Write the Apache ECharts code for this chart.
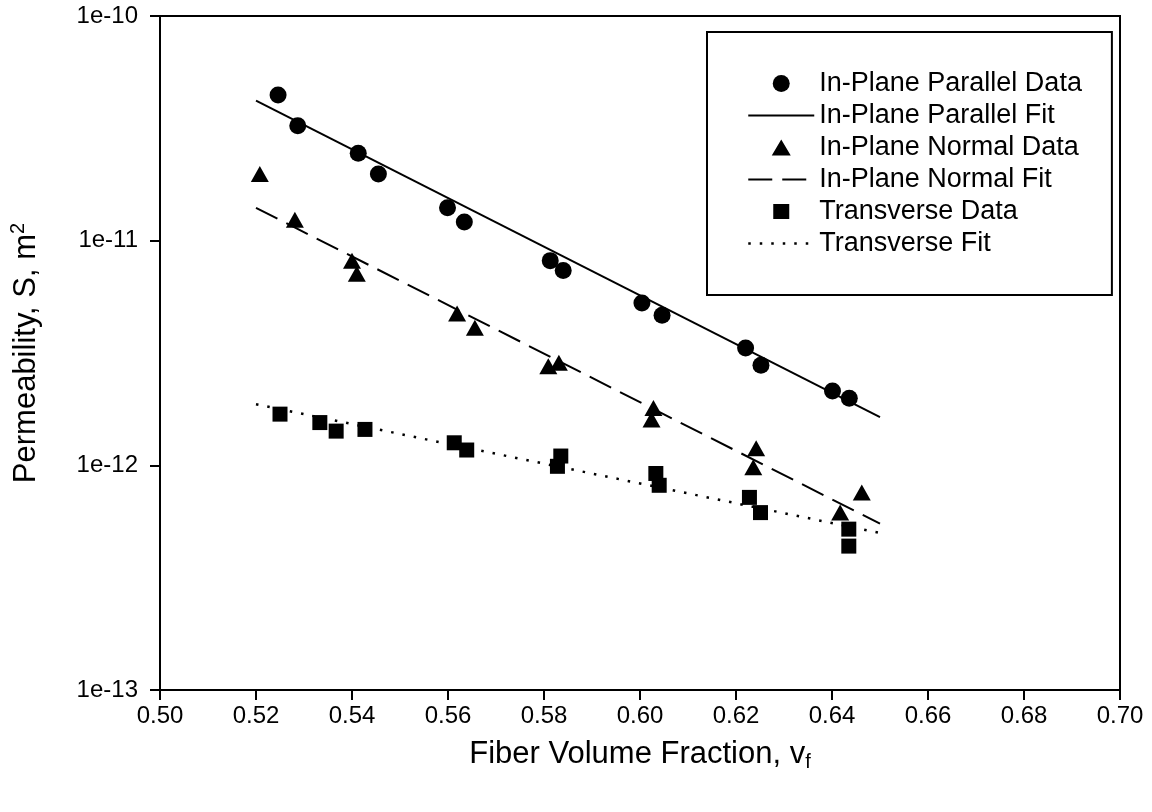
<!DOCTYPE html>
<html>
<head>
<meta charset="utf-8">
<script src="https://cdn.jsdelivr.net/npm/echarts@6/dist/echarts.min.js"></script>
<style>
  html, body { margin: 0; padding: 0; background: #fff; }
  #chart { width: 1152px; height: 812px; }
</style>
</head>
<body>
<div id="chart"></div>
<script>
// Fiber volume fraction (x) and permeability in m^2 (y)
const parVf  = [0.5246, 0.5287, 0.5413, 0.5455, 0.5599, 0.5634, 0.5813, 0.5840, 0.6004, 0.6046, 0.6220, 0.6252, 0.6401, 0.6436];
const parK   = [4.45e-11, 3.25e-11, 2.45e-11, 1.98e-11, 1.40e-11, 1.21e-11, 8.15e-12, 7.36e-12, 5.28e-12, 4.66e-12, 3.33e-12, 2.79e-12, 2.14e-12, 1.99e-12];

const normVf = [0.5208, 0.5281, 0.5400, 0.5410, 0.5619, 0.5656, 0.5809, 0.5831, 0.6028, 0.6024, 0.6242, 0.6236, 0.6417, 0.6462];
const normK  = [1.98e-11, 1.24e-11, 8.15e-12, 7.13e-12, 4.74e-12, 4.10e-12, 2.76e-12, 2.86e-12, 1.80e-12, 1.60e-12, 1.19e-12, 9.8e-13, 6.16e-13, 7.57e-13];

const transVf = [0.5250, 0.5333, 0.5367, 0.5427, 0.5613, 0.5639, 0.5835, 0.5828, 0.6033, 0.6040, 0.6228, 0.6251, 0.6435, 0.6435];
const transK  = [1.69e-12, 1.55e-12, 1.42e-12, 1.445e-12, 1.26e-12, 1.17e-12, 1.10e-12, 9.9e-13, 9.2e-13, 8.15e-13, 7.2e-13, 6.16e-13, 5.2e-13, 4.37e-13];

// Exponential fit lines, end points
const fitVf    = [0.52, 0.65];
const parFit   = [4.2e-11, 1.64e-12];
const normFit  = [1.40e-11, 5.5e-13];
const transFit = [1.87e-12, 5.0e-13];

const seriesNames = [
  'In-Plane Parallel Data', 'In-Plane Parallel Fit',
  'In-Plane Normal Data', 'In-Plane Normal Fit',
  'Transverse Data', 'Transverse Fit'
];

const pairs = (xs, ys) => xs.map((x, i) => [x, ys[i]]);
const FONT = '"Liberation Sans", Arial, sans-serif';

const solidLine  = { color: '#000', width: 2, type: 'solid' };
const dashedLine = { color: '#000', width: 2, type: [24, 10] };
const dottedLine = { color: '#000', width: 2.5, type: [2.5, 9] };
const markStyle  = { color: '#000', opacity: 1 };
const hiddenDot  = { color: 'rgba(0,0,0,0)', borderWidth: 0 };

// Legend icons: a centred glyph inside a 66x16 frame (degenerate corner
// segments fix the frame so the glyph is not stretched to the item box)
const ICON_FRAME = 'M0,0L0.01,0ZM66,16L65.99,16Z';
const triangleIcon = 'path://' + ICON_FRAME + 'M23.5,16L33,0L42.5,16Z';
const squareIcon   = 'path://' + ICON_FRAME + 'M25,0.5H41V15.5H25Z';

const chart = echarts.init(document.getElementById('chart'), null, { renderer: 'canvas' });

chart.setOption({
  backgroundColor: '#fff',
  animation: false,
  grid: {
    left: 160, right: 32, top: 16, bottom: 122,
    show: true, borderColor: '#000', borderWidth: 2, backgroundColor: 'transparent'
  },
  xAxis: {
    type: 'value', min: 0.5, max: 0.7, interval: 0.02,
    name: 'Fiber Volume Fraction, v{sub|f}',
    nameLocation: 'middle', nameGap: 46,
    nameTextStyle: {
      fontFamily: FONT, fontSize: 31, color: '#000',
      rich: { sub: { fontFamily: FONT, fontSize: 20, color: '#000', verticalAlign: 'bottom', padding: [16, 0, 0, 0] } }
    },
    axisLine: { onZero: false, lineStyle: { color: '#000', width: 2 } },
    axisTick: { inside: false, length: 10, lineStyle: { color: '#000', width: 2 } },
    axisLabel: { margin: 14, fontFamily: FONT, fontSize: 24, color: '#000', formatter: v => v.toFixed(2) },
    splitLine: { show: false }
  },
  yAxis: {
    type: 'log', logBase: 10, min: 1e-13, max: 1e-10,
    name: 'Permeability, S, m{sup|2}',
    nameLocation: 'middle', nameGap: 116, nameRotate: 90,
    nameTextStyle: {
      fontFamily: FONT, fontSize: 31, color: '#000',
      rich: { sup: { fontFamily: FONT, fontSize: 20, color: '#000', verticalAlign: 'top', padding: [0, 0, 16, 0] } }
    },
    axisLine: { onZero: false, lineStyle: { color: '#000', width: 2 } },
    axisTick: { inside: false, length: 10, lineStyle: { color: '#000', width: 2 } },
    axisLabel: {
      margin: 22, fontFamily: FONT, fontSize: 24, color: '#000',
      formatter: v => '1e' + Math.round(Math.log10(v))
    },
    splitLine: { show: false },
    minorTick: { show: false }
  },
  legend: {
    orient: 'vertical',
    left: 707, top: 32,
    padding: [38, 30, 38, 40],
    borderColor: '#000', borderWidth: 2,
    backgroundColor: '#fff',
    itemWidth: 66, itemHeight: 17, itemGap: 5,
    symbolKeepAspect: true,
    textStyle: { fontFamily: FONT, fontSize: 27, color: '#000' },
    data: [
      { name: seriesNames[0], icon: 'circle', itemStyle: markStyle },
      { name: seriesNames[1], itemStyle: hiddenDot, lineStyle: solidLine },
      { name: seriesNames[2], icon: triangleIcon, itemStyle: markStyle },
      { name: seriesNames[3], itemStyle: hiddenDot, lineStyle: dashedLine },
      { name: seriesNames[4], icon: squareIcon, itemStyle: markStyle },
      { name: seriesNames[5], itemStyle: hiddenDot, lineStyle: dottedLine }
    ]
  },
  series: [
    {
      name: seriesNames[0], type: 'scatter', symbol: 'circle', symbolSize: 17,
      itemStyle: markStyle, data: pairs(parVf, parK), z: 3
    },
    {
      name: seriesNames[1], type: 'line', symbol: 'none', showSymbol: false,
      lineStyle: solidLine, itemStyle: { color: '#000' }, data: pairs(fitVf, parFit), z: 2
    },
    {
      name: seriesNames[2], type: 'scatter', symbol: 'triangle', symbolSize: [18, 16],
      itemStyle: markStyle, data: pairs(normVf, normK), z: 3
    },
    {
      name: seriesNames[3], type: 'line', symbol: 'none', showSymbol: false,
      lineStyle: dashedLine, itemStyle: { color: '#000' }, data: pairs(fitVf, normFit), z: 2
    },
    {
      name: seriesNames[4], type: 'scatter', symbol: 'rect', symbolSize: 15,
      itemStyle: markStyle, data: pairs(transVf, transK), z: 3
    },
    {
      name: seriesNames[5], type: 'line', symbol: 'none', showSymbol: false,
      lineStyle: dottedLine, itemStyle: { color: '#000' }, data: pairs(fitVf, transFit), z: 2
    }
  ]
});
</script>
</body>
</html>
